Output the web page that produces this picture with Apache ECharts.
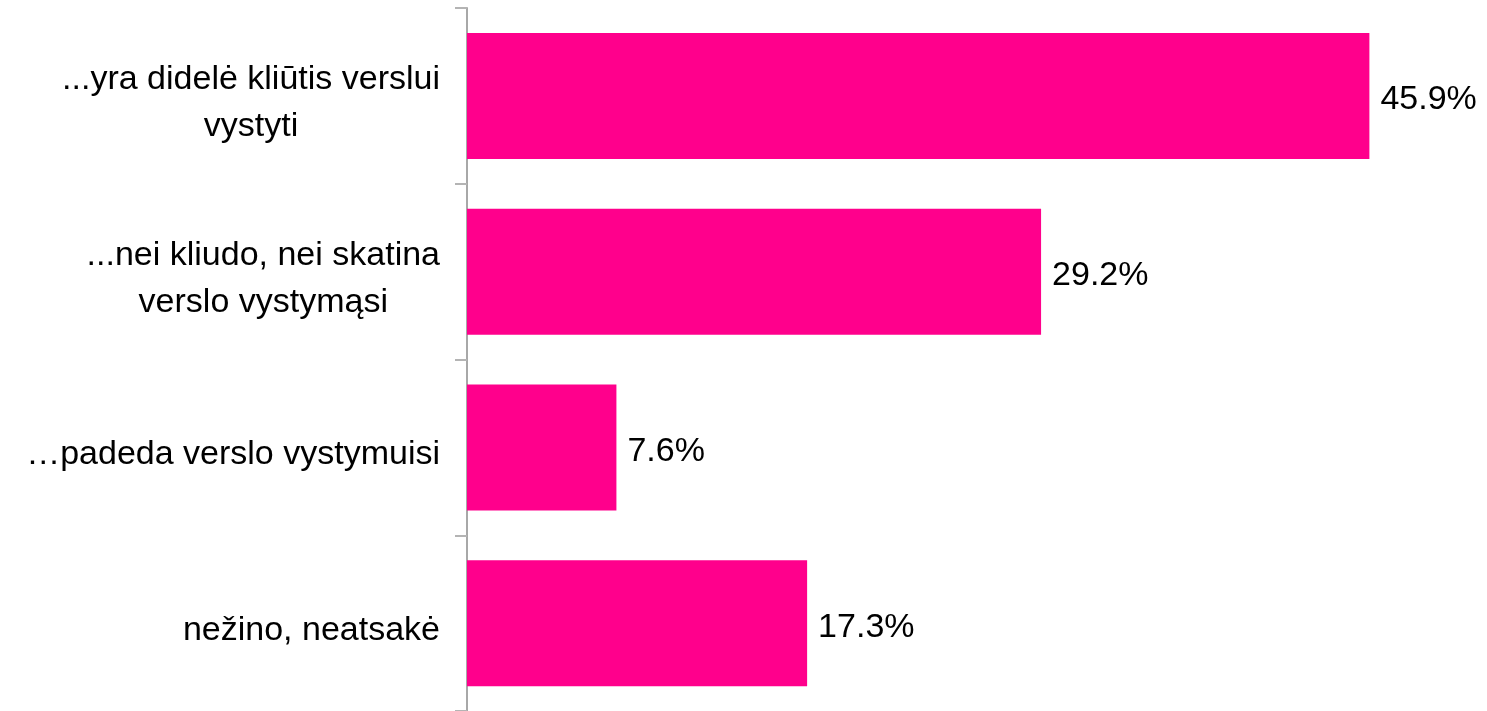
<!DOCTYPE html>
<html>
<head>
<meta charset="utf-8">
<script src="https://cdn.jsdelivr.net/npm/echarts@6/dist/echarts.min.js"></script>
<style>
  html, body { margin: 0; padding: 0; background: #fff; }
  #chart { width: 1487px; height: 711px; }
</style>
</head>
<body>
<div id="chart"></div>
<script>
const categories = [
  '...yra didelė kliūtis verslui\nvystyti',
  '...nei kliudo, nei skatina\nverslo vystymąsi',
  '…padeda verslo vystymuisi',
  'nežino, neatsakė'
]
const values = [45.9, 29.2, 7.6, 17.3]

const font = 'Liberation Sans, Arial, sans-serif'
const chart = echarts.init(document.getElementById('chart'), null, { renderer: 'canvas' })

chart.setOption({
  animation: false,
  grid: { left: 467, top: 8, width: 983, bottom: -6, containLabel: false },
  xAxis: {
    type: 'value',
    min: 0,
    max: 50,
    show: false
  },
  yAxis: {
    type: 'category',
    inverse: true,
    data: categories,
    axisLine: { show: true, lineStyle: { color: '#a8a8a8', width: 2 } },
    axisTick: { show: true, length: 12, lineStyle: { color: '#b4b4b4', width: 2 } },
    axisLabel: {
      margin: 27,
      align: 'right',
      padding: [14, 0, 0, 0],
      // every line centred inside the right-aligned block
      formatter: v => v.split('\n').map(s => '{c|' + s + '}').join('\n'),
      rich: {
        c: {
          align: 'center',
          color: '#000',
          fontFamily: font,
          fontSize: 34,
          lineHeight: 47
        }
      }
    }
  },
  series: [{
    type: 'bar',
    data: values,
    barWidth: 126,
    itemStyle: { color: '#ff008c' },
    label: {
      show: true,
      position: 'right',
      distance: 11,
      offset: [0, 4],
      color: '#000',
      fontFamily: font,
      fontSize: 34,
      formatter: p => p.value.toFixed(1) + '%'
    }
  }]
})
</script>
</body>
</html>
